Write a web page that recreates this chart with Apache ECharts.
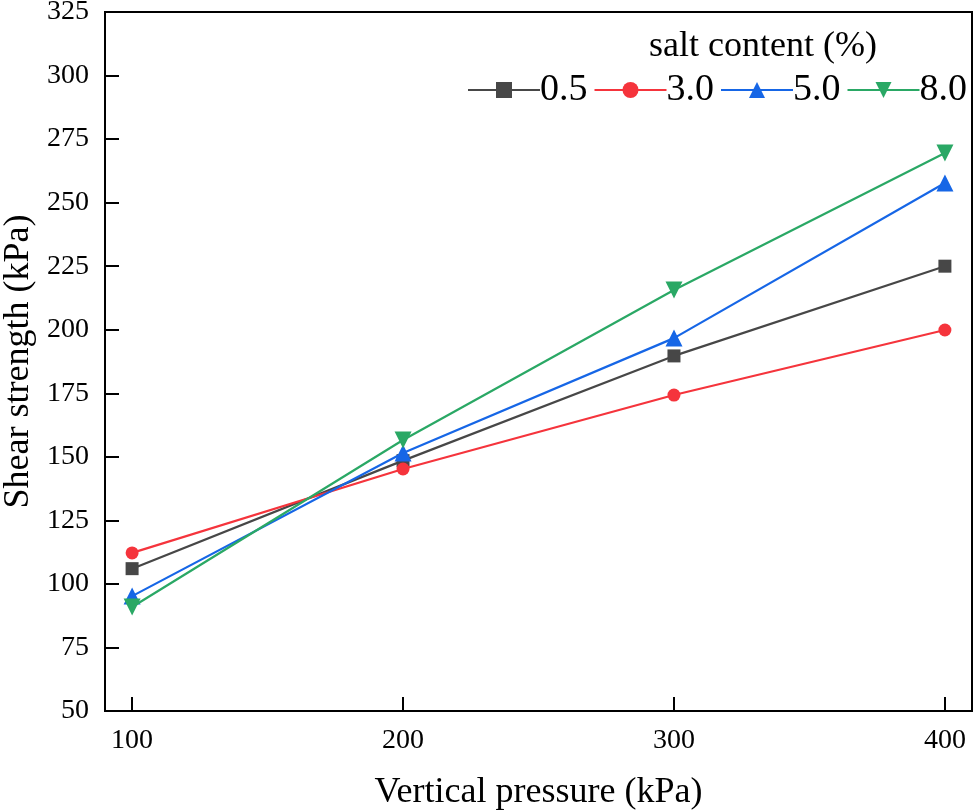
<!DOCTYPE html>
<html>
<head>
<meta charset="utf-8">
<script src="https://cdn.jsdelivr.net/npm/echarts@6/dist/echarts.min.js"></script>
<style>
  html, body { margin: 0; padding: 0; background: #fff; }
  #chart { width: 977px; height: 811px; }
</style>
</head>
<body>
<div id="chart"></div>
<script>
// vertical pressure (kPa)
const pressure = [100, 200, 300, 400];
const seriesNames = ['0.5', '3.0', '5.0', '8.0'];
// shear strength (kPa) per salt content
const salt05 = [106, 148.5, 189.7, 225];
const salt30 = [112.2, 145.2, 174.3, 199.9];
const salt50 = [95.2, 151.5, 196.7, 257.7];
const salt80 = [90.9, 156.6, 215.6, 269.5];
const colors = ['#474747', '#f5343c', '#1666e6', '#2aa865'];
const symbols = ['rect', 'circle', 'triangle', 'path://M0,0 L10,0 L5,9 Z'];
const symbolSizes = [13, 13, 17, 17];

const font = 'Liberation Serif';
const chart = echarts.init(document.getElementById('chart'));

const allData = [salt05, salt30, salt50, salt80];
const series = allData.map((vals, i) => ({
  name: seriesNames[i],
  type: 'line',
  data: vals.map((v, k) => [pressure[k], v]),
  symbol: symbols[i],
  symbolSize: symbolSizes[i],
  lineStyle: { color: colors[i], width: 2.2 },
  itemStyle: { color: colors[i] },
  z: 2 + i
}));

chart.setOption({
  animation: false,
  backgroundColor: '#fff',
  grid: {
    left: 105, right: 5, top: 12, bottom: 100,
    outerBoundsMode: 'none',
    show: true, borderColor: '#000', borderWidth: 2
  },
  title: {
    text: 'salt content (%)',
    left: 644, top: 24,
    textStyle: { fontFamily: font, fontSize: 36, fontWeight: 'normal', color: '#000' }
  },
  legend: {
    data: seriesNames,
    left: 462, top: 66,
    itemGap: 6,
    itemWidth: 72, itemHeight: 20,
    textStyle: { fontFamily: font, fontSize: 38, color: '#000', padding: [0, 0, 0, -5] }
  },
  xAxis: {
    type: 'value',
    min: 90, max: 410,
    interval: 10,
    name: 'Vertical pressure (kPa)',
    nameLocation: 'middle',
    nameGap: 64,
    nameTextStyle: { fontFamily: font, fontSize: 36, color: '#000' },
    axisLine: { lineStyle: { color: '#000', width: 2 } },
    axisTick: {
      inside: true, length: 14,
      lineStyle: { color: '#000', width: 2 },
      customValues: pressure
    },
    axisLabel: {
      fontFamily: font, fontSize: 28, color: '#000', margin: 16,
      customValues: pressure
    },
    splitLine: { show: false }
  },
  yAxis: {
    type: 'value',
    min: 50, max: 325,
    interval: 25,
    name: 'Shear strength (kPa)',
    nameLocation: 'middle',
    nameGap: 68,
    nameTextStyle: { fontFamily: font, fontSize: 36, color: '#000' },
    axisLine: { lineStyle: { color: '#000', width: 2 } },
    axisTick: { inside: true, length: 14, lineStyle: { color: '#000', width: 2 } },
    axisLabel: { fontFamily: font, fontSize: 28, color: '#000', margin: 16 },
    splitLine: { show: false }
  },
  series: series
});
</script>
</body>
</html>
